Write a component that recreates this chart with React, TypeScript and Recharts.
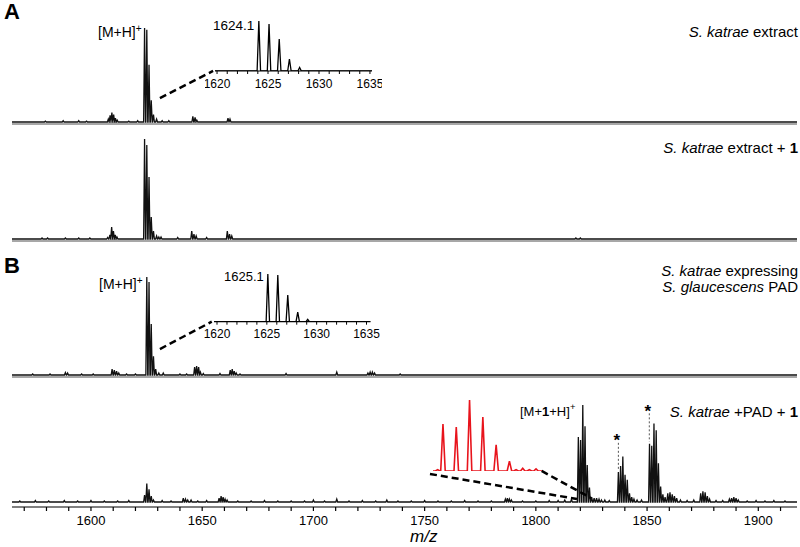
import React from 'react';
import { LineChart, Line, XAxis, YAxis, ReferenceLine } from 'recharts';

const FONT = 'Arial, "Liberation Sans", Helvetica, sans-serif';

// shared m/z window of the four stacked spectra
const mzRange: [number, number] = [1564.5, 1917.4];
const axisTicks = [1570, 1580, 1590, 1600, 1610, 1620, 1630, 1640, 1650, 1660, 1670, 1680, 1690, 1700, 1710, 1720, 1730, 1740, 1750, 1760, 1770, 1780, 1790, 1800, 1810, 1820, 1830, 1840, 1850, 1860, 1870, 1880, 1890, 1900, 1910];
const insetTicks = [1620, 1621, 1622, 1623, 1624, 1625, 1626, 1627, 1628, 1629, 1630, 1631, 1632, 1633, 1634, 1635];

// A (top): S. katrae extract
const extractMz = [1579.5, 1587.5, 1594.5, 1598, 1607.8, 1608.6, 1609.4, 1610.2, 1611, 1611.8, 1617, 1621, 1624.1, 1625.1, 1626.1, 1627.1, 1628.1, 1629.5, 1632, 1635, 1645.8, 1646.8, 1647.6, 1661.6, 1662.5];
const extractInt = [1, 1.5, 1.5, 1, 3, 7, 10, 8, 4, 2, 1, 1.5, 100, 98, 61, 23, 8, 3, 1.5, 1.5, 6, 5, 2, 4, 3];

// A (bottom): S. katrae extract + 1
const extractOneMz = [1578, 1580.5, 1588.5, 1594.5, 1599.5, 1607.5, 1608.5, 1609.3, 1610.1, 1610.9, 1611.7, 1624.1, 1625.1, 1626.1, 1627.1, 1628.1, 1629.5, 1630.5, 1631.5, 1639, 1645.3, 1646.3, 1647.3, 1652, 1661.3, 1662.3, 1663.3, 1818, 1820];
const extractOneInt = [1, 1, 1, 1, 1, 1.5, 4, 12, 8, 4, 2, 100, 94, 62, 22, 8, 3, 2, 2, 1.5, 8, 5, 3, 1.5, 8, 5, 3, 1, 1];

// B (top): S. katrae expressing S. glaucescens PAD
const padMz = [1573.8, 1581.6, 1588.5, 1589.5, 1595.8, 1601, 1609.5, 1610.5, 1611.5, 1612.5, 1616, 1620, 1625.1, 1626.1, 1627.1, 1628.1, 1629.1, 1630.5, 1632.5, 1640, 1643, 1646.6, 1647.5, 1648.4, 1649.2, 1650.5, 1658, 1662.6, 1663.5, 1664.4, 1665.3, 1667, 1687.7, 1710.5, 1724.5, 1725.5, 1726.5, 1727.5, 1739];
const padInt = [1, 1, 2.5, 2, 1, 1, 6, 5, 4, 2, 1, 1, 100, 95, 52, 19, 6, 2, 2, 1, 1, 8, 9, 8, 3, 1.5, 1.5, 5, 6, 4, 2, 1, 1.5, 3, 2, 3, 3, 2, 1];

// B (bottom): S. katrae + PAD + 1
const padOneMz = [1568, 1575, 1581, 1588, 1594, 1600, 1606, 1612, 1617, 1624.1, 1625.1, 1626.1, 1627.1, 1628.1, 1632, 1636, 1641.5, 1642.5, 1643.5, 1645, 1648, 1652, 1657.6, 1658.5, 1659.4, 1660.3, 1661.2, 1666, 1672, 1678, 1684, 1690, 1696, 1700, 1705, 1710.5, 1716, 1722, 1728, 1733, 1738, 1744, 1750, 1756, 1762, 1768, 1774, 1780, 1786.3, 1787.2, 1788.1, 1789, 1794, 1800, 1806, 1810, 1813, 1816, 1819.1, 1820.1, 1821.1, 1822.1, 1823.1, 1824.1, 1825.1, 1826.2, 1827.3, 1828.4, 1829.5, 1831, 1833, 1837.1, 1838.1, 1839.1, 1840.1, 1841.1, 1842.1, 1843.1, 1844.1, 1845.5, 1847.5, 1851.1, 1852.1, 1853.1, 1854.1, 1855.1, 1856.1, 1857.1, 1858.1, 1859.3, 1860.3, 1861.3, 1862.3, 1863.3, 1865, 1868, 1871, 1874.1, 1875.1, 1876.1, 1877.1, 1878.1, 1881, 1884, 1887, 1888, 1889, 1890, 1891, 1895, 1899, 1903, 1907, 1912];
const padOneInt = [1, 1.5, 1, 1.5, 1, 1.5, 1, 1, 1.5, 7, 19, 13, 6, 2, 1.5, 1, 4, 3, 2, 2, 1, 1.5, 4, 6, 5, 3, 2, 1, 1, 1.5, 1, 1, 1, 2, 1, 3, 1, 1.5, 1, 2, 1, 1, 1.5, 1, 1, 1.5, 1, 1, 3, 4, 3, 2, 1, 1, 1.5, 1.5, 2, 2.5, 67, 64, 100, 78, 38, 15, 5, 4, 4, 3, 2, 2, 1.5, 31, 37, 47, 28, 23, 9, 5, 3, 2, 2, 60, 58, 81, 74, 40, 16, 8, 5, 9, 10, 8, 6, 4, 2, 1.5, 2, 9, 11, 10, 6, 3, 1.5, 1.5, 3, 4, 5, 4, 2, 1, 1.5, 1, 1.5, 1];

// zoomed isotope patterns
const insetAMz = [1624.1, 1625.1, 1626.1, 1627.1, 1628.1];
const insetAInt = [100, 94, 64, 24, 7];
const insetBMz = [1625.1, 1626.1, 1627.1, 1628.1, 1629.1];
const insetBInt = [100, 98, 56, 20, 5];
const redMz = [1818.7, 1819.1, 1820.1, 1821.1, 1822.1, 1823.1, 1824.1, 1824.6, 1825.1, 1825.6, 1826.1];
const redInt = [2, 66, 62, 100, 76, 37, 14, 2, 4, 2, 3];

type Pt = { mz: number; i: number };

// stick peaks -> a thin profile trace along a zero baseline
const trace = (mz: number[], inten: number[], hw: number, lo: number, hi: number): Pt[] => {
  const pts: Pt[] = [{ mz: lo, i: 0 }];
  mz.forEach((m, k) => {
    pts.push({ mz: m - hw, i: 0 }, { mz: m, i: inten[k] }, { mz: m + hw, i: 0 });
  });
  pts.push({ mz: hi, i: 0 });
  return pts;
};

type PanelProps = {
  data: Pt[];
  top: number; // y of intensity 100
  base: number; // y of intensity 0
  axisY: number;
  bottom?: boolean;
  children?: React.ReactNode;
};

function Panel({ data, top, base, axisY, bottom, children }: PanelProps) {
  const yMin = (-100 * (axisY - base)) / (base - top);
  const axisH = bottom ? 32 : 4;
  return (
    <div style={{ position: 'absolute', left: 0, top: 0 }}>
      <LineChart width={800} height={axisY + axisH} data={data} margin={{ top, right: 3, left: 12, bottom: 0 }}>
        {bottom ? (
          <XAxis
            type="number"
            dataKey="mz"
            domain={mzRange}
            allowDataOverflow
            ticks={axisTicks}
            interval={0}
            tickFormatter={(v: number) => (v % 50 === 0 ? String(v) : '')}
            tickSize={4}
            tickMargin={5}
            height={axisH}
            axisLine={{ stroke: '#000', strokeWidth: 1.2 }}
            tickLine={{ stroke: '#000', strokeWidth: 1.2 }}
            tick={{ fontSize: 13, fill: '#000', fontFamily: FONT }}
          />
        ) : (
          <XAxis
            type="number"
            dataKey="mz"
            domain={mzRange}
            allowDataOverflow
            tick={false}
            tickLine={false}
            height={axisH}
            axisLine={{ stroke: '#8a8a8a', strokeWidth: 1.5 }}
          />
        )}
        <YAxis hide domain={[yMin, 100]} allowDataOverflow />
        <Line type="linear" dataKey="i" stroke="#111" strokeWidth={1.3} dot={false} isAnimationActive={false} />
        {children}
      </LineChart>
    </div>
  );
}

type InsetProps = { data: Pt[]; left: number; top: number; width: number; plotH: number; domain: [number, number] };

function Inset({ data, left, top, width, plotH, domain }: InsetProps) {
  return (
    <div style={{ position: 'absolute', left, top }}>
      <LineChart width={width} height={plotH + 10 + 22} data={data} margin={{ top: 10, right: 10, left: 10, bottom: 0 }}>
        <XAxis
          type="number"
          dataKey="mz"
          domain={domain}
          allowDataOverflow
          ticks={insetTicks}
          interval={0}
          tickFormatter={(v: number) => (v % 5 === 0 ? String(v) : '')}
          tickSize={3}
          tickMargin={5}
          height={22}
          axisLine={{ stroke: '#000', strokeWidth: 1.2 }}
          tickLine={{ stroke: '#000' }}
          tick={{ fontSize: 12, fill: '#000', fontFamily: FONT }}
        />
        <YAxis hide domain={[0, 100]} allowDataOverflow />
        <Line type="linear" dataKey="i" stroke="#000" strokeWidth={1.3} dot={false} isAnimationActive={false} />
      </LineChart>
    </div>
  );
}

type TxtProps = { x: number; y: number; size?: number; right?: boolean; bold?: boolean; italic?: boolean; children: React.ReactNode };

const Txt = ({ x, y, size = 15, right, bold, italic, children }: TxtProps) => {
  const style: React.CSSProperties = {
    position: 'absolute',
    top: y - size * 0.54,
    fontSize: size,
    lineHeight: 1,
    whiteSpace: 'nowrap',
    fontFamily: FONT,
    fontWeight: bold ? 'bold' : 'normal',
    fontStyle: italic ? 'italic' : 'normal',
    color: '#000',
  };
  if (right) style.right = 800 - x;
  else style.left = x;
  return <div style={style}>{children}</div>;
};

const Sup = ({ size }: { size: number }) => (
  <span style={{ fontSize: size * 0.72, position: 'relative', top: -size * 0.42 }}>+</span>
);

const dashed = { stroke: '#000', strokeWidth: 2.5, strokeDasharray: '7 4' };
const dotted = { stroke: '#555', strokeWidth: 1, strokeDasharray: '2 2' };

export default function App() {
  const insetADomain: [number, number] = [1619.8, 1635.2];
  const insetBDomain: [number, number] = [1619.7, 1635.4];
  const redDomain: [number, number] = [1818.35, 1826.55];

  return (
    <div style={{ position: 'absolute', left: 0, top: 0, width: 800, height: 547, background: '#fff' }}>
      <Panel data={trace(extractMz, extractInt, 0.42, mzRange[0], mzRange[1])} top={28} base={122} axisY={124}>
        <ReferenceLine segment={[{ x: 1631, y: 25.5 }, { x: 1654.9, y: 54.3 }]} {...dashed} />
      </Panel>
      <Panel data={trace(extractOneMz, extractOneInt, 0.42, mzRange[0], mzRange[1])} top={139} base={239} axisY={241} />
      <Panel data={trace(padMz, padInt, 0.42, mzRange[0], mzRange[1])} top={277} base={375} axisY={377}>
        <ReferenceLine segment={[{ x: 1631, y: 26.5 }, { x: 1654.3, y: 54.4 }]} {...dashed} />
      </Panel>
      <Panel data={trace(padOneMz, padOneInt, 0.42, mzRange[0], mzRange[1])} top={405} base={502} axisY={507} bottom>
        <ReferenceLine segment={[{ x: 1752.4, y: 28.9 }, { x: 1818.5, y: 3.1 }]} {...dashed} />
        <ReferenceLine segment={[{ x: 1802.6, y: 32 }, { x: 1824.8, y: 4.1 }]} {...dashed} />
        <ReferenceLine segment={[{ x: 1837.1, y: 61 }, { x: 1837.1, y: 33 }]} {...dotted} />
        <ReferenceLine segment={[{ x: 1851.0, y: 91.4 }, { x: 1851.0, y: 62.2 }]} {...dotted} />
      </Panel>

      <Inset data={trace(insetAMz, insetAInt, 0.17, insetADomain[0], insetADomain[1])} left={205} top={11} width={177} plotH={50} domain={insetADomain} />
      <Inset data={trace(insetBMz, insetBInt, 0.17, insetBDomain[0], insetBDomain[1])} left={203.5} top={264} width={176.5} plotH={47.7} domain={insetBDomain} />

      <div style={{ position: 'absolute', left: 422.7, top: 390 }}>
        <LineChart width={129} height={81} data={trace(redMz, redInt, 0.17, redDomain[0], redDomain[1])} margin={{ top: 10, right: 10, left: 10, bottom: 0 }}>
          <XAxis hide type="number" dataKey="mz" domain={redDomain} allowDataOverflow />
          <YAxis hide domain={[0, 100]} allowDataOverflow />
          <Line type="linear" dataKey="i" stroke="#e8141c" strokeWidth={1.6} dot={false} isAnimationActive={false} />
        </LineChart>
      </div>

      <Txt x={4} y={12.5} size={22} bold>A</Txt>
      <Txt x={4} y={267} size={22} bold>B</Txt>

      <Txt x={98} y={33} size={14}>[M+H]<Sup size={14} /></Txt>
      <Txt x={213} y={26} size={13.5}>1624.1</Txt>
      <Txt x={798} y={31.7} right><i>S. katrae</i> extract</Txt>

      <Txt x={798} y={148} right><i>S. katrae</i> extract + <b>1</b></Txt>

      <Txt x={99} y={285} size={14}>[M+H]<Sup size={14} /></Txt>
      <Txt x={224} y={276.7} size={13}>1625.1</Txt>
      <Txt x={798} y={271} right><i>S. katrae</i> expressing</Txt>
      <Txt x={798} y={287.5} right><i>S. glaucescens</i> PAD</Txt>

      <Txt x={520} y={411.7} size={13}>[M+<b>1</b>+H]<Sup size={13} /></Txt>
      <Txt x={798} y={411.7} right><i>S. katrae</i> +PAD + <b>1</b></Txt>
      <Txt x={613.5} y={441} size={17} bold>*</Txt>
      <Txt x={644.5} y={412.5} size={17} bold>*</Txt>

      <Txt x={410} y={537} size={17} italic>m/z</Txt>
    </div>
  );
}
